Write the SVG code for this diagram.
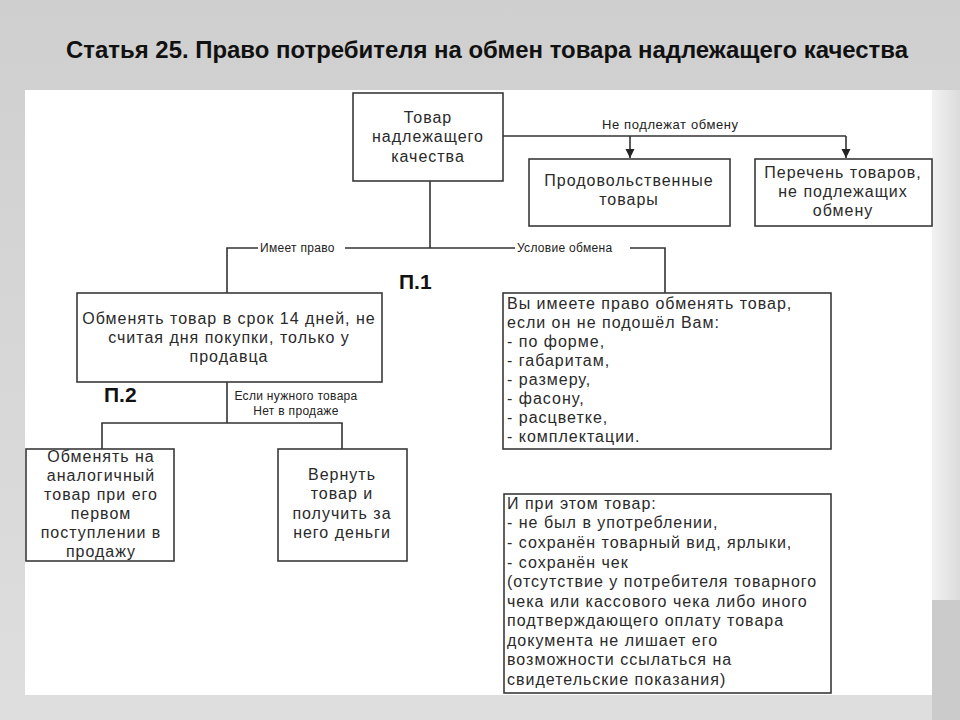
<svg xmlns="http://www.w3.org/2000/svg" width="960" height="720" viewBox="0 0 960 720">
<defs>
<linearGradient id="bg" x1="0" y1="0" x2="0" y2="1">
<stop offset="0" stop-color="#cfcfcf"/>
<stop offset="1" stop-color="#dedede"/>
</linearGradient>
<linearGradient id="rs" x1="0" y1="0" x2="1" y2="0">
<stop offset="0" stop-color="#f2f2f2"/>
<stop offset="1" stop-color="#dcdcdc"/>
</linearGradient>
<marker id="arr" viewBox="0 0 10 10" refX="10" refY="5" markerWidth="9" markerHeight="10" markerUnits="userSpaceOnUse" orient="auto">
<path d="M0,0 L10,5 L0,10 z" fill="#222"/>
</marker>
<style>
.box{fill:#fff;stroke:#3a3a3a;stroke-width:1.6}
.t{font-family:"Liberation Sans",Arial,sans-serif;font-size:16px;fill:#2a2a2a;letter-spacing:1px}
.c{text-anchor:middle}
.lab{font-family:"Liberation Sans",Arial,sans-serif;font-size:13px;fill:#222;letter-spacing:0.6px}
.lab2{font-family:"Liberation Sans",Arial,sans-serif;font-size:12px;fill:#222;letter-spacing:0.3px}
.ln{fill:none;stroke:#333;stroke-width:1.6}
.p{font-family:"Liberation Sans",Arial,sans-serif;font-size:21px;font-weight:bold;fill:#111}
</style>
</defs>
<rect x="0" y="0" width="960" height="720" fill="url(#bg)"/>
<rect x="932" y="90" width="28" height="510" fill="url(#rs)"/>
<rect x="932" y="600" width="28" height="120" fill="#cbcbcb"/>
<rect x="25" y="90" width="907" height="605" fill="#fff"/>
<text x="66" y="58" font-family="'Liberation Sans Narrow','Liberation Sans',Arial,sans-serif" font-size="24" font-weight="bold" fill="#111" textLength="842" lengthAdjust="spacingAndGlyphs">Статья 25. Право потребителя на обмен товара надлежащего качества</text>

<g id="connectors">
<path class="ln" d="M503,136 H846"/>
<path class="ln" d="M630,136 V158" marker-end="url(#arr)"/>
<path class="ln" d="M846,136 V158" marker-end="url(#arr)"/>
<path class="ln" d="M430,181 V248"/>
<path class="ln" d="M227,293 V248 H258 M345,248 H515 M630,248 H665 V293"/>
<path class="ln" d="M227,382 V423 M102,449 V423 H342 V449"/>
<rect x="598" y="118" width="146" height="14" fill="#fff"/>
<text class="lab" x="602" y="129">Не подлежат обмену</text>
<text class="lab2" x="260" y="252">Имеет право</text>
<text class="lab2" x="517" y="252">Условие обмена</text>
<text class="lab2 c" x="296" y="400">Если нужного товара</text>
<text class="lab2 c" x="296" y="415">Нет в продаже</text>
</g>

<g id="n1">
<rect class="box" x="353" y="93" width="150" height="88"/>
<text class="t c" x="428" y="123">Товар</text>
<text class="t c" x="428" y="142">надлежащего</text>
<text class="t c" x="428" y="162">качества</text>
</g>
<g id="n2">
<rect class="box" x="529" y="159" width="201" height="67"/>
<text class="t c" x="629" y="186">Продовольственные</text>
<text class="t c" x="629" y="205">товары</text>
</g>
<g id="n3">
<rect class="box" x="755" y="159" width="177" height="67"/>
<text class="t c" x="843" y="178">Перечень товаров,</text>
<text class="t c" x="843" y="197">не подлежащих</text>
<text class="t c" x="843" y="216">обмену</text>
</g>
<g id="p1"><text class="p" x="399" y="289">П.1</text></g>
<g id="n4">
<rect class="box" x="77" y="293" width="305" height="89"/>
<text class="t c" x="229" y="324">Обменять товар в срок 14 дней, не</text>
<text class="t c" x="229" y="343">считая дня покупки, только у</text>
<text class="t c" x="229" y="362">продавца</text>
</g>
<g id="p2"><text class="p" x="104" y="402">П.2</text></g>
<g id="n5">
<rect class="box" x="26" y="449" width="148" height="112"/>
<g style="letter-spacing:0.6px">
<text class="t c" x="101" y="462">Обменять на</text>
<text class="t c" x="101" y="481">аналогичный</text>
<text class="t c" x="101" y="500">товар при его</text>
<text class="t c" x="101" y="519">первом</text>
<text class="t c" x="101" y="538">поступлении в</text>
<text class="t c" x="101" y="557">продажу</text>
</g>
</g>
<g id="n6">
<rect class="box" x="278" y="449" width="129" height="112"/>
<text class="t c" x="342" y="480">Вернуть</text>
<text class="t c" x="342" y="499">товар и</text>
<text class="t c" x="342" y="519">получить за</text>
<text class="t c" x="342" y="538">него деньги</text>
</g>
<g id="n7">
<rect class="box" x="503" y="293" width="328" height="156"/>
<g style="letter-spacing:1.3px">
<text class="t" x="507" y="309">Вы имеете право обменять товар,</text>
<text class="t" x="507" y="328">если он не подошёл Вам:</text>
<text class="t" x="507" y="347">- по форме,</text>
<text class="t" x="507" y="366">- габаритам,</text>
<text class="t" x="507" y="385">- размеру,</text>
<text class="t" x="507" y="404">- фасону,</text>
<text class="t" x="507" y="423">- расцветке,</text>
<text class="t" x="507" y="442">- комплектации.</text>
</g>
</g>
<g id="n8">
<rect class="box" x="504" y="494" width="327" height="199"/>
<text class="t" x="507" y="509">И при этом товар:</text>
<text class="t" x="507" y="528">- не был в употреблении,</text>
<text class="t" x="507" y="548">- сохранён товарный вид, ярлыки,</text>
<text class="t" x="507" y="568">- сохранён чек</text>
<text class="t" x="507" y="587">(отсутствие у потребителя товарного</text>
<text class="t" x="507" y="607">чека или кассового чека либо иного</text>
<text class="t" x="507" y="626">подтверждающего оплату товара</text>
<text class="t" x="507" y="646">документа не лишает его</text>
<text class="t" x="507" y="665">возможности ссылаться на</text>
<text class="t" x="507" y="685">свидетельские показания)</text>
</g>
</svg>
